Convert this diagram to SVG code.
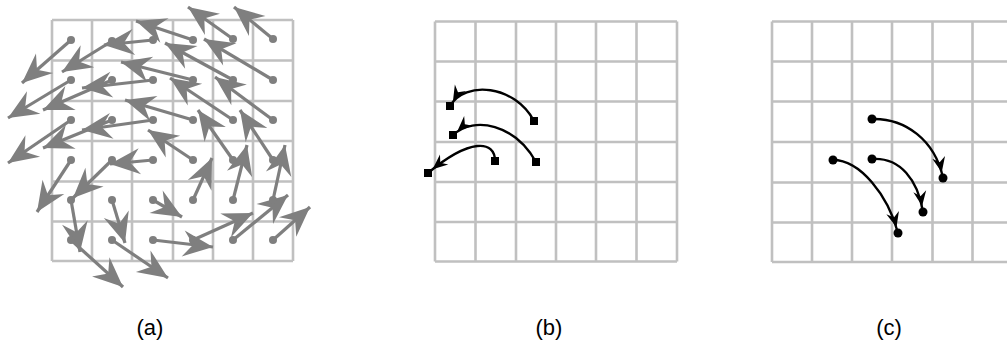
<svg xmlns="http://www.w3.org/2000/svg" width="1007" height="348" viewBox="0 0 1007 348">
<defs>
<style>
.grid{fill:none;stroke:#c0c0c0;stroke-width:2.6}
.va{stroke:#7f7f7f;stroke-width:3.2;fill:none;marker-end:url(#ha)}
.da{fill:#7f7f7f}
.tr{stroke:#000;stroke-width:2.4;fill:none;marker-end:url(#hb)}
.sq{fill:#000}
.lbl{font-family:"Liberation Sans",Arial,sans-serif;font-size:22px;fill:#000;text-anchor:middle}
</style>
<marker id="ha" markerUnits="userSpaceOnUse" viewBox="-32 -15 33 30" refX="0" refY="0" markerWidth="33" markerHeight="30" orient="auto"><path d="M0,0 L-30,-13 L-20,0 L-30,13 Z" fill="#7f7f7f"/></marker>
<marker id="hb" markerUnits="userSpaceOnUse" viewBox="-24 -9 25 18" refX="0" refY="0" markerWidth="25" markerHeight="18" orient="auto"><path d="M-6,0 L-21,-6.5 L-16,0 L-21,6.5 Z" fill="#000"/></marker>
</defs>
<rect width="1007" height="348" fill="#fff"/>

<g id="grid-a" class="grid">
<path d="M52,20V261M92,20V261M132,20V261M173,20V261M213,20V261M253,20V261M293,20V261M52,20H293M52,60.5H293M52,101H293M52,141H293M52,181.5H293M52,221.5H293M52,261H293"/>
</g>
<g id="grid-b" class="grid">
<path d="M435,21.5V261.5M475.5,21.5V261.5M516,21.5V261.5M556,21.5V261.5M596,21.5V261.5M636.5,21.5V261.5M677,21.5V261.5M435,21.5H677M435,61.5H677M435,101.5H677M435,142H677M435,182H677M435,222H677M435,261.5H677"/>
</g>
<g id="grid-c" class="grid">
<path d="M772,21.5V262M812,21.5V262M852,21.5V262M892,21.5V262M932.5,21.5V262M972.5,21.5V262M1013,21.5V262M772,21.5H1013M772,61.5H1013M772,101.5H1013M772,142H1013M772,182.5H1013M772,222.5H1013M772,262H1013"/>
</g>

<g id="connectors">
<g id="field-a">
<line class="va" x1="71" y1="40" x2="22" y2="83"/>
<line class="va" x1="112" y1="41" x2="62" y2="72"/>
<line class="va" x1="153" y1="40" x2="104" y2="45"/>
<line class="va" x1="193" y1="40" x2="136" y2="21"/>
<line class="va" x1="233" y1="39" x2="188" y2="7"/>
<line class="va" x1="273" y1="39" x2="234" y2="7"/>
<line class="va" x1="71" y1="80" x2="8" y2="118"/>
<line class="va" x1="112" y1="80" x2="43" y2="110"/>
<line class="va" x1="153" y1="80" x2="82" y2="88"/>
<line class="va" x1="193" y1="80" x2="121" y2="62"/>
<line class="va" x1="233" y1="80" x2="165" y2="43"/>
<line class="va" x1="273" y1="80" x2="204" y2="39"/>
<line class="va" x1="71" y1="120" x2="8" y2="163"/>
<line class="va" x1="112" y1="120" x2="43" y2="148"/>
<line class="va" x1="153" y1="120" x2="82" y2="130"/>
<line class="va" x1="193" y1="120" x2="125" y2="100"/>
<line class="va" x1="233" y1="120" x2="170" y2="78"/>
<line class="va" x1="273" y1="120" x2="215" y2="77"/>
<line class="va" x1="71" y1="160" x2="37" y2="212"/>
<line class="va" x1="112" y1="160" x2="73" y2="198"/>
<line class="va" x1="153" y1="160" x2="110" y2="164"/>
<line class="va" x1="193" y1="160" x2="148" y2="130"/>
<line class="va" x1="233" y1="160" x2="198" y2="110"/>
<line class="va" x1="273" y1="160" x2="240" y2="110"/>
<line class="va" x1="71" y1="200" x2="80" y2="252"/>
<line class="va" x1="112" y1="200" x2="125" y2="243"/>
<line class="va" x1="153" y1="200" x2="182" y2="217"/>
<line class="va" x1="193" y1="200" x2="212" y2="158"/>
<line class="va" x1="233" y1="200" x2="247" y2="145"/>
<line class="va" x1="273" y1="200" x2="285" y2="145"/>
<line class="va" x1="71" y1="240" x2="123" y2="287"/>
<line class="va" x1="112" y1="240" x2="168" y2="278"/>
<line class="va" x1="153" y1="240" x2="213" y2="247"/>
<line class="va" x1="193" y1="240" x2="253" y2="213"/>
<line class="va" x1="233" y1="240" x2="288" y2="195"/>
<line class="va" x1="273" y1="240" x2="310" y2="207"/>
</g>
<g id="tracks-b">
<path class="tr" d="M534,121 C515,85 465,80 450,106"/>
<path class="tr" d="M536,162 C515,125 475,115 453,135"/>
<path class="tr" d="M495,161 C495,140 470,138 428,173"/>
</g>
<g id="tracks-c">
<path class="tr" d="M872,119 C905,118 935,140 943,178"/>
<path class="tr" d="M872,159 C900,157 918,180 923,212"/>
<path class="tr" d="M833,160 C860,160 888,195 898,233"/>
</g>
</g>

<g id="points-a" class="da">
<circle cx="71" cy="40" r="4"/><circle cx="112" cy="41" r="4"/><circle cx="153" cy="40" r="4"/><circle cx="193" cy="40" r="4"/><circle cx="233" cy="39" r="4"/><circle cx="273" cy="39" r="4"/>
<circle cx="71" cy="80" r="4"/><circle cx="112" cy="80" r="4"/><circle cx="153" cy="80" r="4"/><circle cx="193" cy="80" r="4"/><circle cx="233" cy="80" r="4"/><circle cx="273" cy="80" r="4"/>
<circle cx="71" cy="120" r="4"/><circle cx="112" cy="120" r="4"/><circle cx="153" cy="120" r="4"/><circle cx="193" cy="120" r="4"/><circle cx="233" cy="120" r="4"/><circle cx="273" cy="120" r="4"/>
<circle cx="71" cy="160" r="4"/><circle cx="112" cy="160" r="4"/><circle cx="153" cy="160" r="4"/><circle cx="193" cy="160" r="4"/><circle cx="233" cy="160" r="4"/><circle cx="273" cy="160" r="4"/>
<circle cx="71" cy="200" r="4"/><circle cx="112" cy="200" r="4"/><circle cx="153" cy="200" r="4"/><circle cx="193" cy="200" r="4"/><circle cx="233" cy="200" r="4"/><circle cx="273" cy="200" r="4"/>
<circle cx="71" cy="240" r="4"/><circle cx="112" cy="240" r="4"/><circle cx="153" cy="240" r="4"/><circle cx="193" cy="240" r="4"/><circle cx="233" cy="240" r="4"/><circle cx="273" cy="240" r="4"/>
</g>
<g id="points-b" class="sq">
<rect x="530" y="117" width="8" height="8"/><rect x="446" y="102" width="8" height="8"/>
<rect x="532" y="158" width="8" height="8"/><rect x="449" y="131" width="8" height="8"/>
<rect x="491" y="157" width="8" height="8"/><rect x="424" y="169" width="8" height="8"/>
</g>
<g id="points-c" class="sq">
<circle cx="872" cy="119" r="4.5"/><circle cx="943" cy="178" r="4.5"/>
<circle cx="872" cy="159" r="4.5"/><circle cx="923" cy="212" r="4.5"/>
<circle cx="833" cy="160" r="4.5"/><circle cx="898" cy="233" r="4.5"/>
</g>

<g id="labels">
<text class="lbl" x="150" y="335">(a)</text>
<text class="lbl" x="549" y="335">(b)</text>
<text class="lbl" x="889" y="335">(c)</text>
</g>
</svg>
